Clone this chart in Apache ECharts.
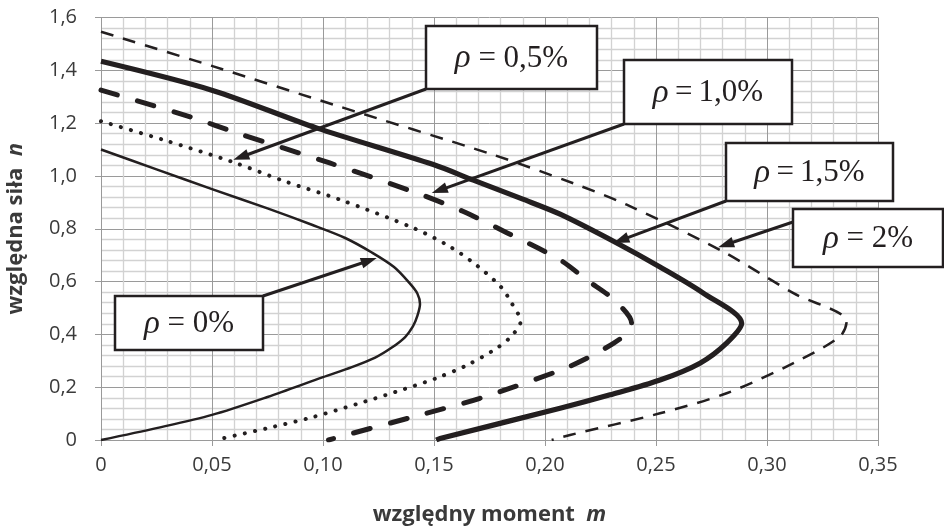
<!DOCTYPE html>
<html><head><meta charset="utf-8">
<script src="https://cdn.jsdelivr.net/npm/echarts@6/dist/echarts.min.js"></script>
<style>html,body{margin:0;padding:0;background:#fff}#c{width:944px;height:530px}</style>
</head><body><div id="c"></div>
<script>
// ---- data ----
const xTickLabels = ['0','0,05','0,10','0,15','0,20','0,25','0,30','0,35'];
const yTickLabels = ['0','0,2','0,4','0,6','0,8','1,0','1,2','1,4','1,6'];

const rho0 = [[0,1.10],[0.025,1.025],[0.05,0.95],[0.075,0.877],[0.095,0.815],[0.11,0.765],[0.122,0.71],[0.132,0.655],[0.139,0.594],[0.1425,0.555],[0.1437,0.515],[0.1425,0.47],[0.1405,0.43],[0.137,0.39],[0.131,0.35],[0.1235,0.312],[0.113,0.276],[0.10,0.238],[0.075,0.163],[0.05,0.095],[0.025,0.045],[0,0]];
const rho05 = [[0,1.207],[0.028,1.137],[0.0596,1.052],[0.083,0.979],[0.1077,0.91],[0.1407,0.803],[0.157,0.733],[0.169,0.663],[0.180,0.581],[0.185,0.518],[0.189,0.449],[0.184,0.386],[0.177,0.341],[0.165,0.284],[0.151,0.234],[0.133,0.183],[0.1152,0.136],[0.0946,0.085],[0.0746,0.044],[0.0514,0]];
const rho10 = [[0,1.325],[0.0416,1.22],[0.0611,1.163],[0.103,1.049],[0.1407,0.94],[0.163,0.866],[0.183,0.784],[0.2068,0.682],[0.219,0.605],[0.231,0.531],[0.239,0.442],[0.2368,0.404],[0.231,0.367],[0.219,0.31],[0.2075,0.266],[0.1707,0.158],[0.1407,0.088],[0.1077,0.0125],[0.1025,0]];
const rho15 = [[0,1.434],[0.0506,1.323],[0.097,1.182],[0.1497,1.043],[0.1677,0.984],[0.19,0.912],[0.2068,0.855],[0.2323,0.746],[0.2518,0.655],[0.2713,0.556],[0.2886,0.442],[0.2818,0.367],[0.2698,0.291],[0.2518,0.227],[0.2293,0.171],[0.2068,0.12],[0.1527,0.006],[0.151,0]];
const rho20 = [[0,1.546],[0.0506,1.415],[0.1047,1.27],[0.1767,1.08],[0.2128,0.972],[0.2368,0.891],[0.2788,0.72],[0.3119,0.556],[0.3359,0.449],[0.3329,0.392],[0.3119,0.291],[0.2818,0.177],[0.2518,0.101],[0.2113,0.019],[0.203,0]];

// annotations
const annTexts = ['{r|ρ} = 0%', '{r|ρ} = 0,5%', '{r|ρ}\u2009=\u20091,0%', '{r|ρ}\u2009=\u20091,5%', '{r|ρ} = 2%'];
const annTips = [[0.1242,0.689],[0.0596,1.061],[0.149,0.935],[0.2308,0.746],[0.278,0.730]];

// ---- layout ----
const annBoxes = [[115,296,148,54],[426,26,171,63],[624,60,168,64],[726,143,167,58],[793,209,150,58]];
const annAnchors = [[263,296],[426,89],[624,124],[726,201],[793,222]];

const INK = '#231f20';
const TXT = '#3a3a3a';
const chart = echarts.init(document.getElementById('c'));
function ser(data, width, type, cap) {
  return {type:'line', data:data, showSymbol:false, symbol:'none', smooth:0.3, silent:true,
    lineStyle:{color:INK, width:width, type:type, cap:cap||'butt', join:'round'}};
}
const nameRich = {b:{fontWeight:'bold', fontSize:22, fontFamily:'Open Sans', color:TXT},
                  i:{fontWeight:'bold', fontStyle:'italic', fontSize:22, fontFamily:'Open Sans', color:TXT}};
const option = {
  animation:false,
  backgroundColor:'#fff',
  grid:{left:101, right:66, top:17.5, bottom:90, containLabel:false, outerBoundsMode:'none'},
  xAxis:{type:'value', min:0, max:0.35, interval:0.05,
    axisLine:{show:true, lineStyle:{color:'#9a9a9a', width:1}},
    axisTick:{show:true, length:6, lineStyle:{color:'#9a9a9a'}},
    axisLabel:{formatter:(v)=>xTickLabels[Math.round(v/0.05)], color:TXT, fontSize:20, fontFamily:'Open Sans', margin:15},
    splitLine:{show:true, lineStyle:{color:'#9a9a9a', width:1}},
    minorTick:{show:false, splitNumber:5},
    minorSplitLine:{show:true, lineStyle:{color:'#d2d2d2', width:1.3}},
    name:'{b|względny moment  }{i|m}', nameLocation:'middle', nameGap:64,
    nameTextStyle:{rich:nameRich}
  },
  yAxis:{type:'value', min:0, max:1.6, interval:0.2,
    axisLine:{show:true, lineStyle:{color:'#9a9a9a', width:1}},
    axisTick:{show:true, length:6, lineStyle:{color:'#9a9a9a'}},
    axisLabel:{formatter:(v)=>yTickLabels[Math.round(v/0.2)], color:TXT, fontSize:20, fontFamily:'Open Sans', margin:24},
    splitLine:{show:true, lineStyle:{color:'#9a9a9a', width:1}},
    minorTick:{show:false, splitNumber:5},
    minorSplitLine:{show:true, lineStyle:{color:'#d2d2d2', width:1.3}},
    name:'{b|względna siła  }{i|n}', nameLocation:'middle', nameGap:74, nameRotate:90,
    nameTextStyle:{rich:nameRich}
  },
  series:[
    ser(rho0, 2.5, 'solid'),
    ser(rho05, 4, [0.1, 10.3], 'round'),
    ser(rho10, 5, [17, 21], 'round'),
    ser(rho15, 5.2, 'solid'),
    ser(rho20, 2.5, [13, 10])
  ]
};
chart.setOption(option);

const gfx = [];
for (let i = 0; i < annTexts.length; i++) {
  const tip = chart.convertToPixel({gridIndex:0}, annTips[i]);
  const a = annAnchors[i];
  const dx = tip[0]-a[0], dy = tip[1]-a[1];
  const len = Math.sqrt(dx*dx+dy*dy);
  const ux = dx/len, uy = dy/len, vx = -uy, vy = ux;
  const L = 16, W = 11;
  const bx = tip[0]-L*ux, by = tip[1]-L*uy;
  gfx.push({type:'line', z:100, shape:{x1:a[0], y1:a[1], x2:bx+2*ux, y2:by+2*uy}, style:{stroke:INK, lineWidth:3}});
  gfx.push({type:'polygon', z:100, shape:{points:[[tip[0],tip[1]],[bx+vx*W/2,by+vy*W/2],[bx-vx*W/2,by-vy*W/2]]}, style:{fill:INK}});
  const b = annBoxes[i];
  gfx.push({type:'rect', z:101, shape:{x:b[0], y:b[1], width:b[2], height:b[3]}, style:{fill:'#fff', stroke:INK, lineWidth:2.5}});
  gfx.push({type:'text', z:102, x:b[0]+b[2]/2, y:b[1]+b[3]/2+1,
    style:{text:annTexts[i], align:'center', verticalAlign:'middle', fill:INK, font:'31px "Liberation Serif"',
      rich:{r:{fontStyle:'italic', fontFamily:'Liberation Serif', fontSize:33, fill:INK}}}});
}
chart.setOption({graphic:gfx});
</script></body></html>
